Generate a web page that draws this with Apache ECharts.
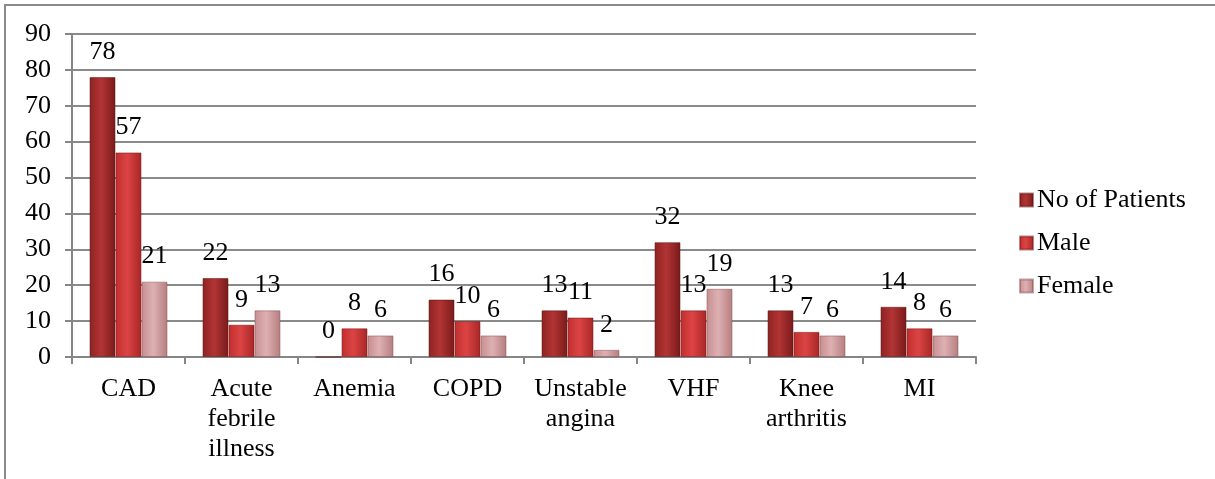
<!DOCTYPE html>
<html>
<head>
<meta charset="utf-8">
<script src="https://cdn.jsdelivr.net/npm/echarts@6/dist/echarts.min.js"></script>
<style>
html,body{margin:0;padding:0;background:#fff;}
#frame{position:absolute;left:4px;top:4px;width:1211px;height:475px;border-top:2px solid #8a8a8a;border-left:2px solid #8a8a8a;}
#chart{position:absolute;left:0;top:0;width:1215px;height:479px;}
</style>
</head>
<body>
<div id="frame"></div>
<div id="chart"></div>
<script>
const categories = ['CAD', 'Acute\nfebrile\nillness', 'Anemia', 'COPD', 'Unstable\nangina', 'VHF', 'Knee\narthritis', 'MI'];
const patients = [78, 22, 0, 16, 13, 32, 13, 14];
const male = [57, 9, 8, 10, 11, 13, 7, 8];
const female = [21, 13, 6, 6, 2, 19, 6, 6];
const yTicks = {min: 0, max: 90, interval: 10};

const font = "'Liberation Serif', 'Times New Roman', serif";
const fs = 26;
function grad(a, b, c) {
  return new echarts.graphic.LinearGradient(0, 0, 1, 0, [
    {offset: 0, color: a}, {offset: 0.45, color: b}, {offset: 1, color: c}
  ]);
}
const labelCfg = {show: true, position: 'top', distance: 12, color: '#000', fontFamily: font, fontSize: fs};
const chart = echarts.init(document.getElementById('chart'), null, {renderer: 'canvas'});
chart.setOption({
  animation: false,
  backgroundColor: 'transparent',
  textStyle: {fontFamily: font},
  grid: {left: 72, top: 34, width: 904, height: 323, containLabel: false},
  legend: {
    orient: 'vertical', left: 1014, top: 182, itemGap: 17, padding: 5,
    itemWidth: 13, itemHeight: 13, icon: 'rect',
    textStyle: {fontFamily: font, fontSize: fs, color: '#000', padding: [0, 0, 0, -1]},
    data: ['No of Patients', 'Male', 'Female']
  },
  xAxis: {
    type: 'category', data: categories,
    axisLine: {lineStyle: {color: '#868686', width: 2}},
    axisTick: {show: true, length: 7, lineStyle: {color: '#868686', width: 2}},
    axisLabel: {fontFamily: font, fontSize: fs, color: '#000', lineHeight: 30, margin: 17, interval: 0}
  },
  yAxis: {
    type: 'value', min: yTicks.min, max: yTicks.max, interval: yTicks.interval,
    axisLine: {show: true, lineStyle: {color: '#868686', width: 2}},
    axisTick: {show: true, length: 7, lineStyle: {color: '#868686', width: 2}},
    axisLabel: {fontFamily: font, fontSize: fs, color: '#000', margin: 21},
    splitLine: {lineStyle: {color: '#8a8a8a', width: 2}}
  },
  series: [
    {name: 'No of Patients', type: 'bar', data: patients, barGap: '0%', barCategoryGap: '31%',
     itemStyle: {color: grad('#8e2222', '#b23434', '#7a1a1a'), borderColor: 'rgba(90,20,20,0.5)', borderWidth: 1},
     label: labelCfg},
    {name: 'Male', type: 'bar', data: male, barGap: '0%', barCategoryGap: '31%',
     itemStyle: {color: grad('#c02e2e', '#dc4444', '#a82626'), borderColor: 'rgba(120,20,20,0.5)', borderWidth: 1},
     label: labelCfg},
    {name: 'Female', type: 'bar', data: female, barGap: '0%', barCategoryGap: '31%',
     itemStyle: {color: grad('#c68e90', '#deb0b2', '#b57e80'), borderColor: 'rgba(140,80,80,0.5)', borderWidth: 1},
     label: labelCfg}
  ]
});
</script>
</body>
</html>
